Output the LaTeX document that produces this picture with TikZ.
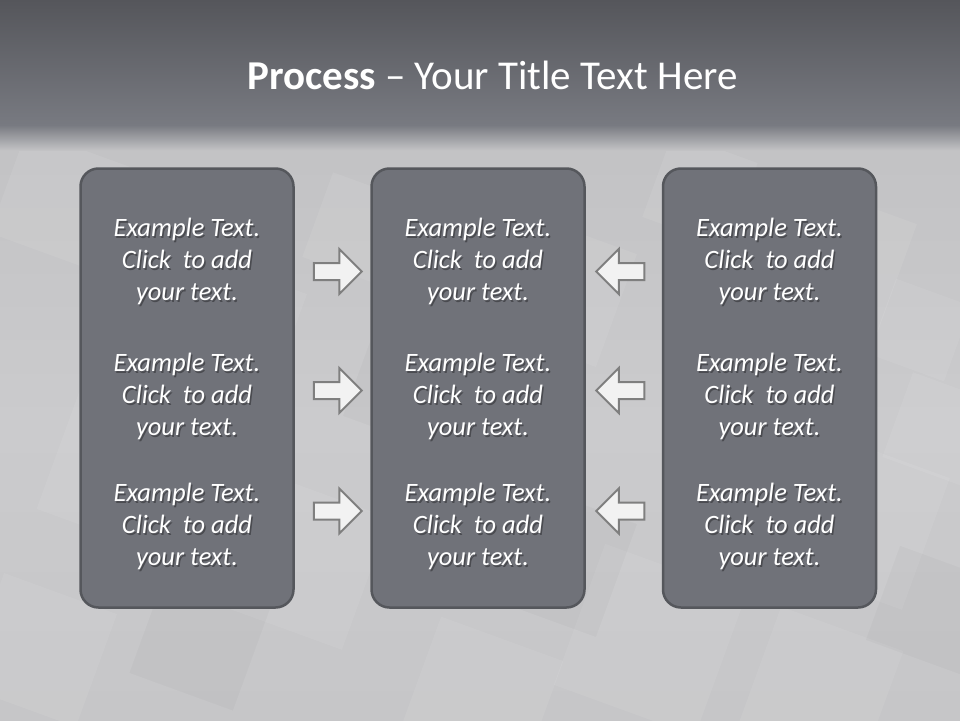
\documentclass[tikz,border=0pt]{standalone}
\usepackage{fontspec}
\setmainfont{Carlito}
\usetikzlibrary{shapes.arrows}
\definecolor{topdark}{HTML}{55565B}
\definecolor{topmid}{HTML}{787A81}
\definecolor{floorA}{HTML}{C2C2C4}
\definecolor{floorB}{HTML}{CBCBCD}
\definecolor{floorC}{HTML}{C6C6C8}
\definecolor{boxfill}{HTML}{707279}
\definecolor{boxline}{HTML}{55575C}
\definecolor{arrowfill}{HTML}{F2F2F2}
\definecolor{arrowline}{HTML}{7F7F7F}
\definecolor{shadowc}{HTML}{4A4B50}
\newcommand\myshadowtext[1]{\leavevmode\rlap{\hspace{1.5pt}\raisebox{-2pt}{\textcolor{shadowc}{#1}}}#1}
\tikzset{
  panel/.style={draw=boxline, line width=2.5pt, fill=boxfill, rounded corners=18pt},
  body/.style={text=white, font=\fontsize{26.5}{32}\selectfont\itshape, align=center, inner sep=0pt},
  flow/.style={single arrow, draw=arrowline, line width=2pt, fill=arrowfill,
    inner xsep=0pt, inner ysep=7.5pt, minimum width=0pt, minimum height=48pt,
    single arrow head extend=14pt},
  tile/.style={fill=white, opacity=0.07},
  darktile/.style={fill=black, opacity=0.025}
}
\begin{document}
\begin{tikzpicture}[x=1pt,y=-1pt]
\useasboundingbox (0,0) rectangle (960,720);
% background
\shade[top color=floorA, bottom color=floorC, middle color=floorB] (0,125) rectangle (960,720);
\begin{scope}
\clip (0,125) rectangle (960,720);
\foreach \cx/\cy/\s in {60/200/110, 230/330/120, 360/230/90, 560/290/120,
  840/260/120, 920/330/80, 120/470/130, 300/560/140, 470/450/110,
  650/640/150, 860/520/140, 820/690/130, 40/650/120, 480/700/130,
  940/430/90, 700/190/90}
  \fill[tile, rotate around={-20:(\cx,\cy)}] (\cx-\s/2,\cy-\s/2) rectangle (\cx+\s/2,\cy+\s/2);
\foreach \cx/\cy/\s in {150/260/100, 420/380/120, 760/420/120, 200/640/110, 560/560/120, 930/610/100}
  \fill[darktile, rotate around={-20:(\cx,\cy)}] (\cx-\s/2,\cy-\s/2) rectangle (\cx+\s/2,\cy+\s/2);
\end{scope}
\shade[top color=topdark, bottom color=topmid] (0,0) rectangle (960,125);
\shade[top color=topmid, bottom color=floorA] (0,125) rectangle (960,150);
% title
\node[text=white, font=\fontsize{41}{48}\selectfont, inner sep=0pt] (title) at (492.5,75)
  {\textbf{Process} – Your Title Text Here};
% panels
\node[panel, minimum width=213pt, minimum height=439pt] (p1) at (187,388) {};
\node[panel, minimum width=213pt, minimum height=439pt] (p2) at (478,388) {};
\node[panel, minimum width=213pt, minimum height=439pt] (p3) at (769.5,388) {};
% texts
\foreach \px/\n in {187/1, 478/2, 769.5/3}{
  \foreach \py/\m in {262/a, 397/b, 527/c}{
    \node[body] (t\n\m) at (\px,\py)
      {\myshadowtext{Example Text.}\\\myshadowtext{Click~ to add}\\\myshadowtext{your text.}};
  }
}
% arrows
\node[flow] (r1) at (333.5,271.5) {};
\node[flow] (r2) at (333.5,390.5) {};
\node[flow] (r3) at (333.5,511) {};
\node[flow, shape border rotate=180] (l1) at (624.5,271.5) {};
\node[flow, shape border rotate=180] (l2) at (624.5,390.5) {};
\node[flow, shape border rotate=180] (l3) at (624.5,511) {};
\end{tikzpicture}
\end{document}
